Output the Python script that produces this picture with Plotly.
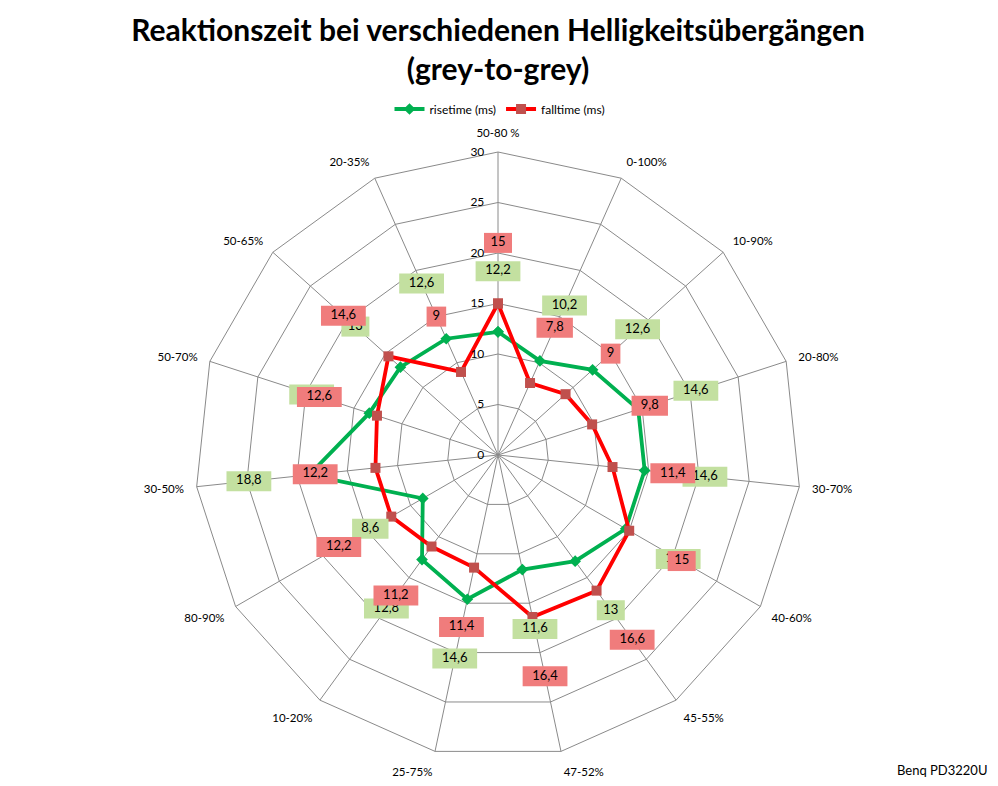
import plotly.graph_objects as go

categories = ["50-80 %", "0-100%", "10-90%", "20-80%", "30-70%", "40-60%", "45-55%",
              "47-52%", "25-75%", "10-20%", "80-90%", "30-50%", "50-70%", "50-65%", "20-35%"]
risetime = [12.2, 10.2, 12.6, 14.6, 14.6, 14.6, 13, 11.6, 14.6, 12.8, 8.6, 18.8, 13.4, 13, 12.6]
falltime = [15, 7.8, 9, 9.8, 11.4, 15, 16.6, 16.4, 11.4, 11.2, 12.2, 12.2, 12.6, 14.6, 9]

radial_ticks = [0, 5, 10, 15, 20, 25, 30]

FONT = "Lato"
GRID = "#8a8a8a"
GREEN = "#00B050"
RED = "#FF0000"
RED_MK = "#C0504D"
GREEN_BOX = "#C3E0A0"
RED_BOX = "#F07C7C"
LABEL_OFFSET = 6


def fmt(v):
    return ("%g" % v).replace(".", ",")


def box_width(s):
    return 8 + 6 * len(s)


fig = go.Figure()

theta_closed = categories + categories[:1]

fig.add_trace(go.Scatterpolar(
    r=risetime + risetime[:1], theta=theta_closed, mode="lines+markers",
    name="risetime (ms)", line=dict(color=GREEN, width=3.8),
    marker=dict(symbol="diamond", size=9, color=GREEN, opacity=1),
))
fig.add_trace(go.Scatterpolar(
    r=falltime + falltime[:1], theta=theta_closed, mode="lines+markers",
    name="falltime (ms)", line=dict(color=RED, width=3.8),
    marker=dict(symbol="square", size=10, color=RED_MK, opacity=1),
))

for vals, col in ((risetime, GREEN_BOX), (falltime, RED_BOX)):
    texts = [fmt(v) for v in vals]
    fig.add_trace(go.Scatterpolar(
        r=[v + LABEL_OFFSET for v in vals], theta=categories,
        mode="markers+text", text=texts, textposition="middle center",
        textfont=dict(family=FONT, size=13, color="black"),
        marker=dict(symbol="line-ew", size=[box_width(t) for t in texts], color=col,
                    opacity=1, line=dict(width=20, color=col)),
        showlegend=False, hoverinfo="skip",
    ))

# page has an 8px body margin; figure is sized to fill the rest of the window
OFF = 8
W, H = 998 - OFF, 786 - OFF
cx, cy, R = 498 - OFF, 455 - OFF, 303

fig.update_layout(
    width=W, height=H,
    margin=dict(l=0, r=0, t=0, b=0),
    paper_bgcolor="white",
    font=dict(family=FONT, color="black"),
    title=dict(
        text="<b>Reaktionszeit bei verschiedenen Helligkeitsübergängen<br>(grey-to-grey)</b>",
        x=(498 - OFF) / W, xanchor="center", y=1 - 33 / H, yanchor="middle", yref="container",
        font=dict(family=FONT, size=30, color="black"),
    ),
    legend=dict(orientation="h", x=(500 - OFF) / W, xanchor="center", y=1 - (109 - OFF) / H,
                yanchor="middle", font=dict(family=FONT, size=12), itemwidth=30,
                bgcolor="rgba(0,0,0,0)"),
    polar=dict(
        domain=dict(x=[(cx - R) / W, (cx + R) / W], y=[(H - cy - R) / H, (H - cy + R) / H]),
        gridshape="linear",
        bgcolor="white",
        angularaxis=dict(
            type="category", categoryarray=categories, direction="clockwise", rotation=90,
            showline=True, linecolor=GRID, linewidth=1, gridcolor=GRID, gridwidth=1,
            ticks="outside", ticklen=10, tickcolor="rgba(0,0,0,0)",
            tickfont=dict(family=FONT, size=11.5, color="black"),
        ),
        radialaxis=dict(
            range=[0, 30], tickvals=radial_ticks, angle=90, tickangle=90,
            showline=False, gridcolor=GRID, gridwidth=1,
            ticks="outside", ticklen=9, tickcolor="rgba(0,0,0,0)",
            side="counterclockwise",
            tickfont=dict(family=FONT, size=12, color="black"),
        ),
    ),
    annotations=[dict(text="Benq PD3220U", x=(942 - OFF) / W, y=1 - (770 - OFF) / H,
                      xref="paper", yref="paper", xanchor="center", yanchor="middle",
                      showarrow=False, font=dict(family=FONT, size=13, color="black"))],
)

fig.write_html("out.html")
